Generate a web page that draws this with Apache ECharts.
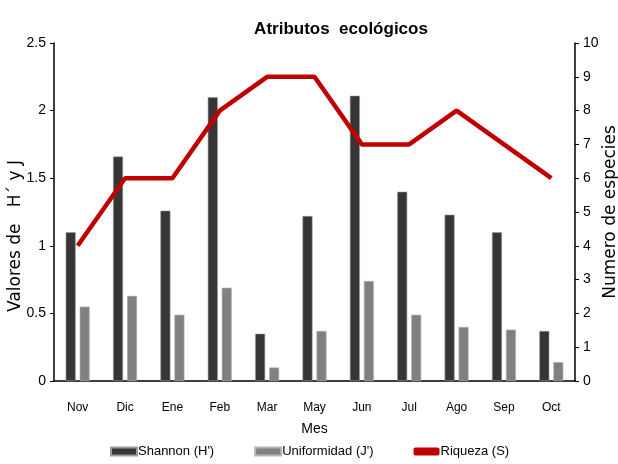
<!DOCTYPE html>
<html><head><meta charset="utf-8">
<script src="https://cdn.jsdelivr.net/npm/echarts@6/dist/echarts.min.js"></script>
<style>html,body{margin:0;padding:0;background:#fff}#c{width:618px;height:464px}</style>
</head><body><div id="c"></div>
<script>
const categories = ['Nov','Dic','Ene','Feb','Mar','May','Jun','Jul','Ago','Sep','Oct'];
const shannon = [1.10,1.66,1.26,2.10,0.35,1.22,2.11,1.40,1.23,1.10,0.37];
const uniformidad = [0.55,0.63,0.49,0.69,0.10,0.37,0.74,0.49,0.40,0.38,0.14];
const riqueza = [4,6,6,8,9,9,7,7,8,7,6];
const leftTicks = ['0','0.5','1','1.5','2','2.5'];

const FONT = '"Liberation Sans Narrow","Liberation Sans",Arial,sans-serif';
const NAMEFONT = '"DejaVu Sans","Liberation Sans",sans-serif';
const chart = echarts.init(document.getElementById('c'));
chart.setOption({
  animation:false,
  backgroundColor:'#fff',
  textStyle:{fontFamily:FONT},
  title:{text:'Atributos  ecológicos',left:336,textAlign:'center',top:16,
    textStyle:{fontFamily:FONT,fontSize:17,fontWeight:'bold',color:'#000'}},
  grid:{left:54,right:43,top:43,bottom:83,outerBoundsMode:'none',containLabel:false},
  legend:{bottom:1,left:105,itemGap:40,itemWidth:26,itemHeight:8,
    textStyle:{fontFamily:FONT,fontSize:13,color:'#000',padding:[0,0,0,-4]},
    data:[{name:'Shannon (H\')',icon:'rect'},{name:'Uniformidad (J\')',icon:'rect'},{name:'Riqueza (S)',icon:'roundRect'}]},
  xAxis:{type:'category',data:categories,name:'Mes',nameLocation:'middle',nameGap:41,
    nameMoveOverlap:false,
    nameTextStyle:{fontFamily:FONT,fontSize:14,color:'#000'},
    axisLine:{lineStyle:{color:'#000',width:1.5}},axisTick:{show:false},
    axisLabel:{fontFamily:FONT,fontSize:12,color:'#000',margin:21}},
  yAxis:[
    {type:'value',min:0,max:2.5,interval:0.5,position:'left',
     name:'Valores de   H´ y J',nameLocation:'middle',nameGap:30,nameRotate:90,
     nameMoveOverlap:false,
     nameTextStyle:{fontFamily:NAMEFONT,fontSize:17,color:'#000',padding:[0,48,0,0]},
     axisLine:{show:true,lineStyle:{color:'#000',width:1.5}},
     axisTick:{show:true,length:4,lineStyle:{color:'#000'}},splitLine:{show:false},
     axisLabel:{fontFamily:FONT,fontSize:14,color:'#000',margin:8,
       formatter:v=>leftTicks[Math.round(v*2)]}},
    {type:'value',min:0,max:10,interval:1,position:'right',
     name:'Numero de especies',nameLocation:'middle',nameGap:27,nameRotate:90,
     nameMoveOverlap:false,
     nameTextStyle:{fontFamily:NAMEFONT,fontSize:17,color:'#000'},
     axisLine:{show:true,lineStyle:{color:'#000',width:1.5}},
     axisTick:{show:true,length:4,lineStyle:{color:'#000'}},splitLine:{show:false},
     axisLabel:{fontFamily:FONT,fontSize:14,color:'#000',margin:8}}
  ],
  series:[
    {name:'Shannon (H\')',type:'bar',data:shannon,barWidth:10,barGap:'40%',
     itemStyle:{color:'#383535',borderColor:'#9a9a9a',borderWidth:0.6}},
    {name:'Uniformidad (J\')',type:'bar',data:uniformidad,barWidth:10,
     itemStyle:{color:'#808080',borderColor:'#b5b5b5',borderWidth:0.6}},
    {name:'Riqueza (S)',type:'line',yAxisIndex:1,data:riqueza,symbol:'none',
     lineStyle:{color:'#c00000',width:4.5},itemStyle:{color:'#c00000'}}
  ]
});
</script></body></html>
